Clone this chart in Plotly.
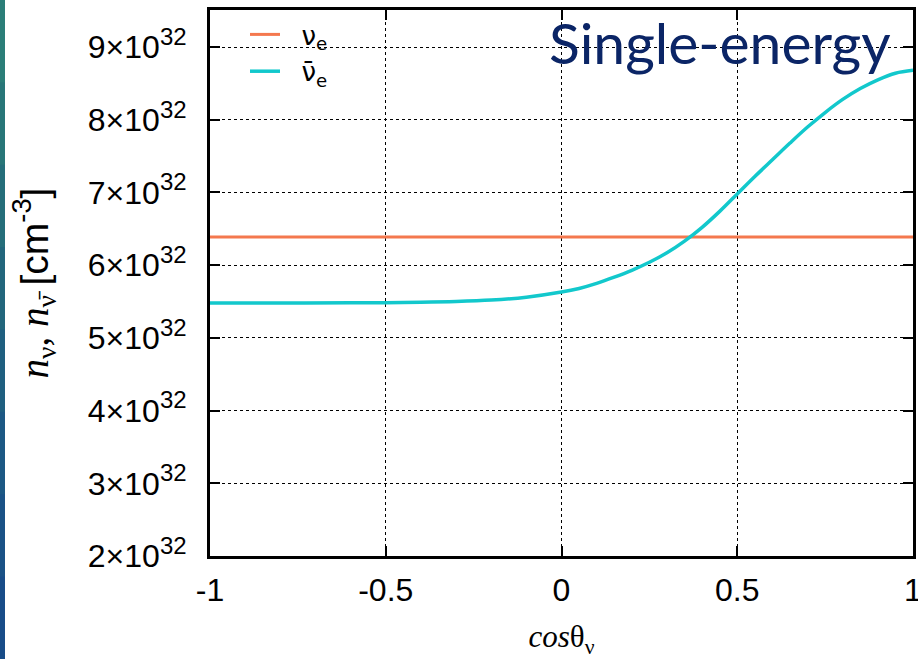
import plotly.graph_objects as go

# cos(theta_nu) sample points
cos_theta = [-1.0, -0.8, -0.6, -0.5, -0.4, -0.3, -0.2, -0.1, 0.0, 0.05, 0.1, 0.15, 0.2,
             0.25, 0.3, 0.35, 0.4, 0.45, 0.5, 0.55, 0.6, 0.65, 0.7, 0.75, 0.8, 0.85,
             0.9, 0.95, 1.0]
# number densities in units of 1e32 cm^-3
n_nue = [6.386] * len(cos_theta)
n_nuebar = [5.48, 5.48, 5.482, 5.485, 5.49, 5.50, 5.52, 5.56, 5.63, 5.68, 5.75, 5.835, 5.93,
            6.04, 6.17, 6.33, 6.52, 6.74, 6.98, 7.22, 7.45, 7.68, 7.90, 8.10, 8.28, 8.43,
            8.55, 8.64, 8.68]

y_tickvals = [2, 3, 4, 5, 6, 7, 8, 9]
y_ticktext = [f"{v}×10<sup><span style='font-size:24px'>32</span></sup>" for v in y_tickvals]
x_tickvals = [-1, -0.5, 0, 0.5, 1]
x_ticktext = ["-1", "-0.5", "0", "0.5", "1"]

ORANGE = "#F4784E"
CYAN = "#12C8CC"

fig = go.Figure()
fig.add_trace(go.Scatter(x=cos_theta, y=n_nue, mode="lines", name="\u00a0\u00a0ν<sub>e</sub>",
                         line=dict(color=ORANGE, width=3)))
fig.add_trace(go.Scatter(x=cos_theta, y=n_nuebar, mode="lines", name="\u00a0\u00a0ν̄<sub>e</sub>",
                         line=dict(color=CYAN, width=3.5, shape="spline", smoothing=1.0)))

W, H = 918, 659
L, R, T, B = 210, 5, 10, 103
pw = W - L - R
ph = H - T - B

axis_common = dict(
    showline=True, linecolor="black", linewidth=3, mirror="ticks",
    ticks="inside", ticklen=10, tickwidth=2, tickcolor="black",
    showgrid=True, gridcolor="black", gridwidth=1, griddash="dot",
    zeroline=False, automargin=False, ticklabeloverflow="allow",
    tickfont=dict(family="Liberation Sans, Arial", size=32, color="black"),
)

fig.update_xaxes(range=[-1, 1], tickvals=x_tickvals, ticktext=x_ticktext,
                 title=dict(text="<i>cos</i>θ<sub>ν</sub>",
                            font=dict(family="Liberation Serif, Times New Roman", size=31, color="black"),
                            standoff=19),
                 ticklabelstandoff=4,
                 **axis_common)
fig.update_yaxes(range=[2, 9.51], tickvals=y_tickvals, ticktext=y_ticktext,
                 title=dict(text="<i>n</i><sub>ν</sub>, <i>n</i><sub>ν̄</sub> <span style='font-family:Liberation Sans'>[cm<sup>-3</sup>]</span>",
                            font=dict(family="Liberation Serif, Times New Roman", size=39, color="black"),
                            standoff=28),
                 ticklabelstandoff=14,
                 **axis_common)

# slide background strip on the left edge (teal at top to blue at bottom)
strip_cols = ["#2B7E78", "#287678", "#256E7A", "#22667C", "#1F5F80", "#1C5884", "#1A5286", "#184C88"]
n = len(strip_cols)
for i, c in enumerate(strip_cols):
    y_top = H * i / n
    y_bot = H * (i + 1) / n + 1
    fig.add_shape(type="rect", xref="paper", yref="paper",
                  x0=(0 - L) / pw, x1=(5 - L) / pw,
                  y0=(H - B - y_bot) / ph, y1=(H - B - y_top) / ph,
                  fillcolor=c, line=dict(width=0), layer="above")

fig.add_annotation(text="Single-energy", xref="paper", yref="paper",
                   x=(893 - L) / pw, y=1 - (6 - T) / ph, xanchor="right", yanchor="top",
                   showarrow=False,
                   font=dict(family="Lato, Noto Sans", size=57, color="#0B2566"))

fig.update_layout(
    width=W, height=H,
    margin=dict(l=L, r=R, t=T, b=B),
    paper_bgcolor="white", plot_bgcolor="white",
    showlegend=True,
    legend=dict(x=(245 - L) / pw, y=1 - (11 - T) / ph, xanchor="left", yanchor="top",
                bgcolor="rgba(0,0,0,0)", font=dict(family="DejaVu Sans, Liberation Sans", size=26, color="black"),
                tracegroupgap=0, itemwidth=30),
)

fig.write_html("out.html", config={"displayModeBar": False},
               post_script="document.body.style.margin='0';document.body.style.padding='0';")
